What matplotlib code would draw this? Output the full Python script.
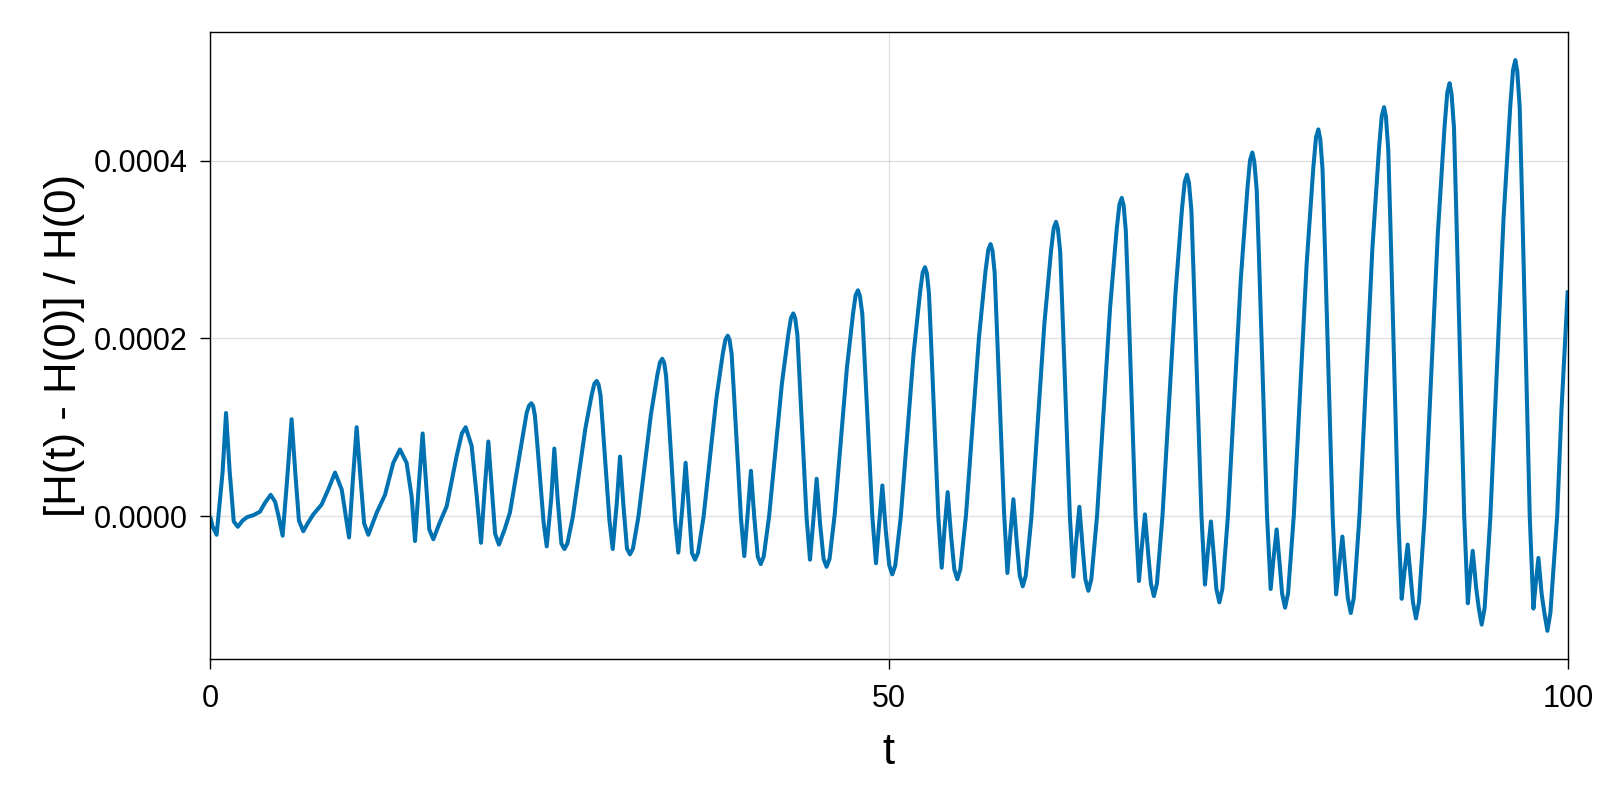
import numpy as np
import matplotlib
matplotlib.use('Agg')
import matplotlib.pyplot as plt
from matplotlib.ticker import FormatStrFormatter

# values, y in units of 1e-4 #################################################
# start of the run: irregular small bumps
t_early = [0.00, 0.20, 0.49, 0.93, 1.18, 1.45, 1.75, 2.05, 2.40, 2.75,
           3.19, 3.68, 4.05, 4.47, 4.80, 5.05, 5.35, 5.70, 6.01, 6.30,
           6.55, 6.87, 7.20, 7.61, 8.22, 8.71, 9.21, 9.70, 10.05, 10.24,
           10.52, 10.80, 11.10, 11.35, 11.66, 12.28, 12.89, 13.50, 13.99, 14.48,
           14.85, 15.10, 15.38, 15.66, 15.95, 16.15, 16.45, 16.90, 17.43, 18.17,
           18.55, 18.83, 19.27, 19.64, 19.96, 20.23, 20.50, 20.78, 21.00, 21.28,
           21.70, 22.09, 22.83, 23.32, 23.49, 23.66, 23.80, 23.93, 24.07, 24.57,
           24.80, 25.14, 25.36, 25.60, 25.88, 26.10, 26.32]
h_early = [0.00, -0.12, -0.21, 0.50, 1.16, 0.50, -0.06, -0.12, -0.05, -0.01,
           0.01, 0.05, 0.15, 0.24, 0.16, 0.00, -0.22, 0.45, 1.09, 0.45,
           -0.05, -0.17, -0.08, 0.02, 0.13, 0.30, 0.49, 0.30, -0.05, -0.24,
           0.40, 1.00, 0.40, -0.08, -0.21, 0.04, 0.24, 0.60, 0.75, 0.60,
           0.22, -0.28, 0.35, 0.93, 0.30, -0.15, -0.26, -0.08, 0.11, 0.68,
           0.93, 1.00, 0.79, 0.23, -0.30, 0.30, 0.84, 0.25, -0.20, -0.32,
           -0.15, 0.04, 0.71, 1.16, 1.24, 1.27, 1.24, 1.13, 0.88, -0.07,
           -0.34, 0.21, 0.76, 0.20, -0.31, -0.37, -0.31]

# growing part, one row per cycle:
# rise (3), round top (3), fall (3), trough, side spike (3), round trough (3)
t_late = [
    26.72, 27.65, 28.12, 28.31, 28.48, 28.62, 28.76, 28.90, 29.42, 29.66, 29.96, 30.20, 30.45, 30.71, 30.93, 31.15,
    31.55, 32.48, 32.95, 33.14, 33.31, 33.45, 33.59, 33.73, 34.25, 34.49, 34.79, 35.03, 35.28, 35.50, 35.72, 35.94,
    36.35, 37.29, 37.77, 37.96, 38.13, 38.27, 38.42, 38.57, 39.11, 39.35, 39.60, 39.84, 40.09, 40.34, 40.56, 40.78,
    41.18, 42.12, 42.60, 42.79, 42.96, 43.10, 43.26, 43.40, 43.94, 44.19, 44.44, 44.68, 44.93, 45.19, 45.41, 45.63,
    46.01, 46.91, 47.37, 47.55, 47.72, 47.86, 48.04, 48.20, 48.78, 49.05, 49.28, 49.52, 49.77, 50.03, 50.25, 50.47,
    50.88, 51.82, 52.30, 52.49, 52.66, 52.80, 52.95, 53.10, 53.64, 53.89, 54.09, 54.33, 54.58, 54.82, 55.04, 55.26,
    55.68, 56.63, 57.12, 57.32, 57.49, 57.63, 57.79, 57.94, 58.48, 58.73, 58.93, 59.17, 59.42, 59.64, 59.86, 60.08,
    60.50, 61.45, 61.94, 62.14, 62.31, 62.45, 62.62, 62.77, 63.33, 63.59, 63.79, 64.03, 64.28, 64.47, 64.69, 64.91,
    65.33, 66.29, 66.78, 66.98, 67.15, 67.29, 67.45, 67.61, 68.17, 68.42, 68.62, 68.86, 69.11, 69.30, 69.52, 69.74,
    70.15, 71.11, 71.59, 71.79, 71.96, 72.10, 72.28, 72.44, 73.02, 73.28, 73.48, 73.72, 73.97, 74.12, 74.34, 74.56,
    74.97, 75.92, 76.41, 76.60, 76.77, 76.91, 77.09, 77.26, 77.85, 78.12, 78.32, 78.56, 78.81, 78.96, 79.18, 79.40,
    79.82, 80.77, 81.26, 81.46, 81.63, 81.77, 81.94, 82.10, 82.68, 82.94, 83.16, 83.40, 83.65, 83.80, 84.02, 84.24,
    84.66, 85.61, 86.10, 86.30, 86.47, 86.61, 86.78, 86.94, 87.51, 87.77, 87.97, 88.21, 88.46, 88.60, 88.82, 89.04,
    89.46, 90.43, 90.93, 91.13, 91.30, 91.44, 91.62, 91.78, 92.37, 92.64, 92.80, 93.00, 93.25, 93.44, 93.66, 93.88,
    94.30, 95.27, 95.77, 95.97, 96.14, 96.28, 96.46, 96.62, 97.20, 97.47, 97.64, 97.84, 98.08, 98.28, 98.50, 98.72,
    99.22, 99.54, 100.00]
h_late = [
    -0.01, 0.99, 1.37, 1.49, 1.52, 1.48, 1.36, 1.07, -0.05, -0.37, 0.15, 0.67, 0.12, -0.365, -0.43, -0.365,
    -0.01, 1.15, 1.59, 1.73, 1.77, 1.725, 1.58, 1.25, -0.04, -0.41, 0.10, 0.60, 0.06, -0.415, -0.49, -0.415,
    -0.01, 1.32, 1.83, 1.985, 2.03, 1.98, 1.82, 1.43, -0.03, -0.45, 0.03, 0.51, -0.02, -0.455, -0.54, -0.455,
    0.00, 1.49, 2.05, 2.23, 2.28, 2.225, 2.04, 1.62, -0.02, -0.49, -0.04, 0.42, -0.08, -0.48, -0.57, -0.48,
    0.02, 1.67, 2.29, 2.485, 2.54, 2.48, 2.28, 1.80, 0.00, -0.53, -0.09, 0.345, -0.16, -0.555, -0.655, -0.555,
    0.00, 1.83, 2.52, 2.74, 2.80, 2.73, 2.51, 1.99, 0.00, -0.58, -0.16, 0.27, -0.22, -0.60, -0.71, -0.60,
    0.01, 2.00, 2.76, 2.995, 3.06, 2.985, 2.74, 2.17, 0.05, -0.64, -0.23, 0.19, -0.30, -0.67, -0.79, -0.67,
    -0.01, 2.16, 2.98, 3.24, 3.31, 3.23, 2.97, 2.35, 0.00, -0.68, -0.29, 0.105, -0.37, -0.71, -0.84, -0.71,
    0.00, 2.34, 3.23, 3.505, 3.58, 3.495, 3.21, 2.55, 0.00, -0.73, -0.36, 0.02, -0.44, -0.76, -0.90, -0.76,
    0.00, 2.51, 3.46, 3.76, 3.84, 3.75, 3.44, 2.73, 0.01, -0.77, -0.42, -0.06, -0.52, -0.82, -0.97, -0.82,
    0.00, 2.67, 3.69, 4.005, 4.09, 3.99, 3.67, 2.91, 0.01, -0.82, -0.49, -0.15, -0.59, -0.87, -1.03, -0.87,
    0.00, 2.84, 3.92, 4.26, 4.35, 4.245, 3.90, 3.09, 0.01, -0.88, -0.56, -0.23, -0.66, -0.92, -1.09, -0.92,
    0.00, 3.01, 4.14, 4.50, 4.60, 4.49, 4.12, 3.27, 0.01, -0.93, -0.63, -0.32, -0.74, -0.97, -1.15, -0.97,
    0.00, 3.18, 4.39, 4.77, 4.87, 4.75, 4.37, 3.47, 0.01, -0.98, -0.69, -0.39, -0.80, -1.03, -1.22, -1.03,
    -0.01, 3.35, 4.62, 5.02, 5.13, 5.005, 4.60, 3.65, 0.00, -1.04, -0.76, -0.47, -0.88, -1.09, -1.29, -1.09,
    0.00, 1.20, 2.54]

x_ticks = [0, 50, 100]
y_ticks = [0.0, 0.0002, 0.0004]

t = np.array(t_early + t_late)
dH = np.array(h_early + h_late) * 1e-4

plt.rcParams['font.family'] = ['Liberation Sans', 'DejaVu Sans']

fig = plt.figure(figsize=(16, 8), dpi=100)
ax = fig.add_axes([0.13125, 0.17625, 0.8486, 0.78425])

ax.plot(t, dH, color='#0072B2', lw=2.9, solid_joinstyle='round', solid_capstyle='butt')

ax.set_xlim(0, 100)
ax.set_ylim(-1.607e-4, 5.45e-4)
ax.set_xticks(x_ticks)
ax.set_yticks(y_ticks)
ax.yaxis.set_major_formatter(FormatStrFormatter('%.4f'))
ax.grid(True, color='black', alpha=0.12, lw=1.0)
ax.set_axisbelow(True)

ax.tick_params(direction='out', length=7.2, width=1.0, labelsize=22)
ax.tick_params(axis='x', pad=10.5)
ax.tick_params(axis='y', pad=9)
for s in ax.spines.values():
    s.set_linewidth(1.0)

ax.set_xlabel('t', fontsize=31.5)
ax.set_ylabel('[H(t) - H(0)] / H(0)', fontsize=31.5)
ax.xaxis.set_label_coords(0.5, -0.116)
ax.yaxis.set_label_coords(-0.092, 0.5)

fig.savefig('out.png', dpi=100)
